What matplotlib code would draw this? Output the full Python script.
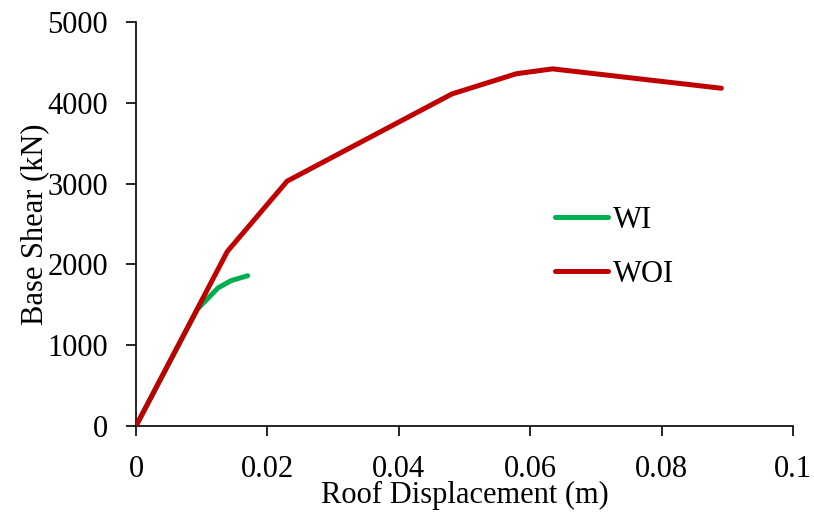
import matplotlib
matplotlib.use("Agg")
import matplotlib.pyplot as plt
from matplotlib.lines import Line2D

plt.rcParams['font.family'] = ['Liberation Serif', 'DejaVu Serif']

series_names = ['WI', 'WOI']
series_colors = ['#00B050', '#C00000']
wi_x = [0.0, 0.0094, 0.0125, 0.0145, 0.0170]
wi_y = [0, 1450, 1710, 1800, 1860]
woi_x = [0.0, 0.0139, 0.0230, 0.0481, 0.0579, 0.0634, 0.0891]
woi_y = [0, 2160, 3030, 4110, 4360, 4420, 4180]

fig = plt.figure(figsize=(8.14, 5.23), dpi=100)
ax = fig.add_axes([136/814, 97/523, 657/814, 404/523])
ax.plot(wi_x, wi_y, color=series_colors[0], lw=3.6, solid_capstyle='round', zorder=2)
ax.plot(woi_x, woi_y, color=series_colors[1], lw=3.6, solid_capstyle='round', zorder=3)

ax.set_xlim(0, 0.1)
ax.set_ylim(0, 5000)
ax.set_xticks([0, 0.02, 0.04, 0.06, 0.08, 0.1])
ax.set_xticklabels(['0', '0.02', '0.04', '0.06', '0.08', '0.1'])
ax.set_yticks([0, 1000, 2000, 3000, 4000, 5000])
for s in ['top', 'right']:
    ax.spines[s].set_visible(False)
for s in ['left', 'bottom']:
    ax.spines[s].set_linewidth(1.2)
ax.tick_params(axis='both', labelsize=22, width=1.2, length=7, direction='out')
ax.tick_params(axis='x', pad=14)
ax.tick_params(axis='y', pad=13)
ax.set_xlabel('Roof Displacement (m)', fontsize=22, labelpad=-2)
ax.set_ylabel('Base Shear (kN)', fontsize=22, labelpad=-1)

# legend entries (axes-fraction layout)
leg_line_y = [0.517, 0.384]
for name, col, ly in zip(series_names, series_colors, leg_line_y):
    ax.add_line(Line2D([0.638, 0.718], [ly, ly], transform=ax.transAxes,
                       color=col, lw=3.6, solid_capstyle='round', clip_on=False))
    ax.text(0.726, ly - 0.027, name, transform=ax.transAxes, fontsize=22,
            ha='left', va='baseline')

fig.savefig('out.png', dpi=100)
